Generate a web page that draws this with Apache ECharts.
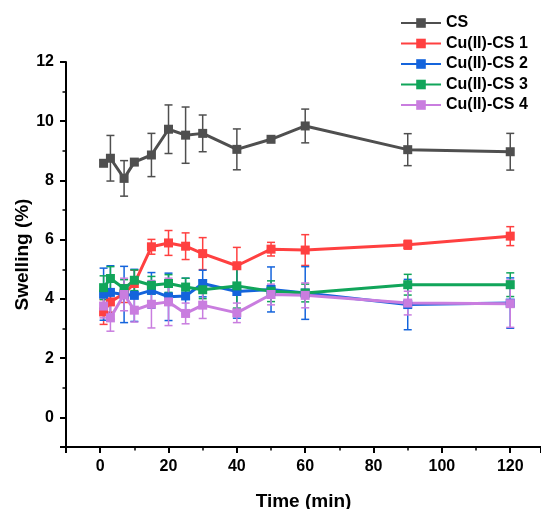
<!DOCTYPE html>
<html>
<head>
<meta charset="utf-8">
<script src="https://cdn.jsdelivr.net/npm/echarts@6/dist/echarts.min.js"></script>
<style>
html, body { margin: 0; padding: 0; background: #fff; }
#chart { width: 541px; height: 509px; }
</style>
</head>
<body>
<div id="chart"></div>
<script>
// time points (min)
var timeMin = [1, 3, 7, 10, 15, 20, 25, 30, 40, 50, 60, 90, 120];

// swelling (%) means and error bars
var csMean = [8.58, 8.75, 8.07, 8.62, 8.86, 9.73, 9.53, 9.59, 9.05, 9.39, 9.84, 9.04, 8.97];
var csErr = [0.1, 0.77, 0.6, 0.1, 0.73, 0.82, 0.95, 0.62, 0.69, 0.08, 0.57, 0.54, 0.62];

var cs1Mean = [3.56, 3.9, 4.18, 4.52, 5.76, 5.89, 5.78, 5.53, 5.12, 5.68, 5.65, 5.83, 6.12];
var cs1Err = [0.42, 0.35, 0.3, 0.45, 0.25, 0.42, 0.45, 0.54, 0.62, 0.23, 0.52, 0.15, 0.32];

var cs2Mean = [4.16, 4.22, 4.15, 4.12, 4.29, 4.07, 4.1, 4.52, 4.25, 4.32, 4.2, 3.81, 3.86];
var cs2Err = [0.88, 0.9, 0.95, 0.88, 0.6, 0.8, 0.6, 0.45, 0.9, 0.76, 0.89, 0.85, 0.85];

var cs3Mean = [4.38, 4.69, 4.35, 4.63, 4.46, 4.52, 4.4, 4.31, 4.44, 4.26, 4.2, 4.48, 4.48];
var cs3Err = [0.4, 0.4, 0.3, 0.35, 0.3, 0.3, 0.3, 0.3, 0.75, 0.35, 0.3, 0.35, 0.4];

var cs4Mean = [3.76, 3.36, 4.15, 3.62, 3.82, 3.9, 3.51, 3.79, 3.53, 4.15, 4.12, 3.86, 3.84];
var cs4Err = [0.4, 0.45, 0.55, 0.4, 0.8, 0.8, 0.35, 0.45, 0.33, 0.35, 0.42, 0.4, 0.8];

var groups = [
  { name: "CS", color: "#4f4f4f", mean: csMean, err: csErr },
  { name: "Cu(II)-CS 1", color: "#ff4040", mean: cs1Mean, err: cs1Err },
  { name: "Cu(II)-CS 2", color: "#1464dc", mean: cs2Mean, err: cs2Err },
  { name: "Cu(II)-CS 3", color: "#11a55a", mean: cs3Mean, err: cs3Err },
  { name: "Cu(II)-CS 4", color: "#c97ddf", mean: cs4Mean, err: cs4Err },
];

var fontFam = "Arial, 'Liberation Sans', sans-serif";

function errorSeries(g) {
  var data = timeMin.map(function (t, i) {
    return [t, g.mean[i] - g.err[i], g.mean[i] + g.err[i]];
  });
  return {
    name: g.name + " err",
    type: "custom",
    silent: true,
    data: data,
    encode: { x: 0, y: [1, 2] },
    renderItem: function (params, api) {
      var x = api.value(0);
      var lo = api.coord([x, api.value(1)]);
      var hi = api.coord([x, api.value(2)]);
      var w = 4; // half cap width
      var style = { stroke: g.color, lineWidth: 1.5 };
      return {
        type: "group",
        children: [
          { type: "line", shape: { x1: lo[0], y1: lo[1], x2: hi[0], y2: hi[1] }, style: style },
          { type: "line", shape: { x1: lo[0] - w, y1: lo[1], x2: lo[0] + w, y2: lo[1] }, style: style },
          { type: "line", shape: { x1: hi[0] - w, y1: hi[1], x2: hi[0] + w, y2: hi[1] }, style: style },
        ],
      };
    },
  };
}

function lineSeries(g) {
  return {
    name: g.name,
    type: "line",
    data: timeMin.map(function (t, i) { return [t, g.mean[i]]; }),
    symbol: "rect",
    symbolSize: 9,
    color: g.color,
    lineStyle: { width: 3, color: g.color },
    itemStyle: { color: g.color },
  };
}

var series = [];
groups.forEach(function (g) {
  series.push(errorSeries(g));
  series.push(lineSeries(g));
});

var chart = echarts.init(document.getElementById("chart"));
var option = {
  backgroundColor: "#fff",
  animation: false,
  grid: { left: 66, right: 0, top: 62, bottom: 62, outerBoundsMode: "none", containLabel: false },
  legend: {
    data: groups.map(function (g) { return g.name; }),
    orient: "vertical",
    left: 400,
    top: 15,
    padding: 0,
    itemWidth: 40,
    itemHeight: 12,
    itemGap: 4.5,
    textStyle: { fontFamily: fontFam, fontWeight: "bold", fontSize: 16, color: "#000", lineHeight: 16 },
  },
  xAxis: [
    {
      type: "value",
      min: -10,
      max: 129,
      splitNumber: 7,
      splitLine: { show: false },
      axisLine: { onZero: false, lineStyle: { color: "#000", width: 2 } },
      axisTick: { length: 6, lineStyle: { color: "#000", width: 2 } },
      axisLabel: {
        margin: 12,
        fontFamily: fontFam,
        fontWeight: "bold",
        fontSize: 16,
        color: "#000",
        formatter: function (v) { return v % 20 === 0 && v >= 0 && v <= 120 ? String(v) : ""; },
      },
      name: "Time (min)",
      nameLocation: "middle",
      nameGap: 45,
      nameMoveOverlap: false,
      nameTextStyle: { fontFamily: fontFam, fontWeight: "bold", fontSize: 19, color: "#000" },
    },
    {
      type: "value",
      min: -10,
      max: 129,
      interval: 10,
      position: "bottom",
      splitLine: { show: false },
      axisLine: { show: false, onZero: false },
      axisTick: { length: 3.5, lineStyle: { color: "#000", width: 1.5 } },
      axisLabel: { show: false },
    },
  ],
  yAxis: [
    {
      type: "value",
      min: -1,
      max: 12,
      splitNumber: 6,
      splitLine: { show: false },
      axisLine: { onZero: false, lineStyle: { color: "#000", width: 2 } },
      axisTick: { length: 6, lineStyle: { color: "#000", width: 2 } },
      axisLabel: {
        margin: 12,
        fontFamily: fontFam,
        fontWeight: "bold",
        fontSize: 16,
        color: "#000",
        formatter: function (v) { return v % 2 === 0 && v >= 0 ? String(v) : ""; },
      },
      name: "Swelling (%)",
      nameLocation: "middle",
      nameGap: 34,
      nameMoveOverlap: false,
      nameRotate: 90,
      nameTextStyle: { fontFamily: fontFam, fontWeight: "bold", fontSize: 19, color: "#000" },
    },
    {
      type: "value",
      min: -1,
      max: 12,
      interval: 1,
      position: "left",
      splitLine: { show: false },
      axisLine: { show: false, onZero: false },
      axisTick: { length: 3.5, lineStyle: { color: "#000", width: 1.5 } },
      axisLabel: { show: false },
    },
  ],
  series: series,
};
chart.setOption(option);
</script>
</body>
</html>
